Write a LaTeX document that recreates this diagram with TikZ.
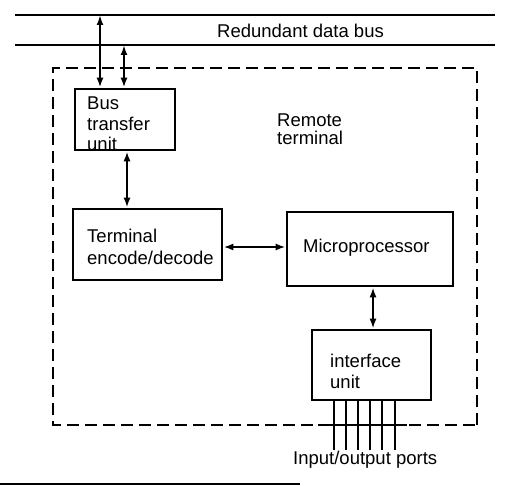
\documentclass[tikz,border=0pt]{standalone}
\usepackage{fontspec}
\setmainfont{Liberation Sans}
\usetikzlibrary{arrows.meta}
\begin{document}
\begin{tikzpicture}[x=1pt,y=-1pt,
  box/.style={draw,line width=2.6pt,minimum width=#1,inner sep=0pt},
  lbl/.style={anchor=base west,inner sep=0pt,font=\fontsize{18.5}{20}\selectfont},
  busline/.style={line width=2.4pt},
  dbl/.style={line width=2pt,{Latex[length=10pt,width=7pt]}-{Latex[length=10pt,width=7pt]}},
  rtbox/.style={line width=2.6pt,dash pattern=on 12pt off 6pt},
  port/.style={line width=2pt}]
\useasboundingbox (0,0) rectangle (505,486);
% bus
\coordinate (bl1) at (15,15); \coordinate (br1) at (495,15);
\coordinate (bl2) at (15,45); \coordinate (br2) at (495,45);
\draw[busline] (bl1) -- (br1);
\draw[busline] (bl2) -- (br2);
\node[lbl] (busl) at (217,38) {Redundant data bus};
% remote terminal boundary
\coordinate (rt1) at (53,68); \coordinate (rt2) at (477,68);
\coordinate (rt3) at (477,425); \coordinate (rt4) at (53,425);
\draw[rtbox] (rt3) -- (rt2) -- (rt1) -- (rt4) -- (rt3);
\node[lbl] (rtl) at (277,127) {Remote};
\node[lbl] (rtl2) at (277,145) {terminal};
% boxes
\node[box=100pt,minimum height=61pt] (btu) at (125,119.5) {};
\node[box=149pt,minimum height=71pt] (ted) at (147.5,244.5) {};
\node[box=166pt,minimum height=74pt] (mp) at (370,249) {};
\node[box=119pt,minimum height=70pt] (iu) at (371.5,365) {};
% texts
\node[lbl] (t1) at (87,110) {Bus};
\node[lbl] (t2) at (87,131) {transfer};
\node[lbl] (t3) at (87,151) {unit};
\node[lbl] (t4) at (87,242) {Terminal};
\node[lbl] (t5) at (87,264) {encode/decode};
\node[lbl] (t6) at (303,252) {Microprocessor};
\node[lbl] (t7) at (330,367) {interface};
\node[lbl] (t8) at (330,388) {unit};
\node[lbl] (t9) at (293,464) {Input/output ports};
% bus connections
\coordinate (c1) at (100,15);
\coordinate (c2) at (124,45);
\draw[dbl] (c1) -- (c1 |- btu.north);
\draw[dbl] (c2) -- (c2 |- btu.north);
% internal connections
\draw[dbl] (btu.south -| 127,0) -- (ted.north -| 127,0);
\draw[dbl] (ted.east |- 0,247) -- (mp.west |- 0,247);
\draw[dbl] (mp.south -| 373,0) -- (iu.north -| 373,0);
% ports
\foreach \px [count=\i] in {334,346,358,370,382,395}{
  \coordinate (p\i) at (\px,450);
  \draw[port] (iu.south -| p\i) -- (p\i);
}
\coordinate (s1) at (318,425); \coordinate (s2) at (407,425);
\draw[line width=2.6pt] (s1) -- (s2);
% bottom edge line
\coordinate (e1) at (0,484); \coordinate (e2) at (300,484);
\draw[line width=1.8pt] (e1) -- (e2);
\end{tikzpicture}
\end{document}
